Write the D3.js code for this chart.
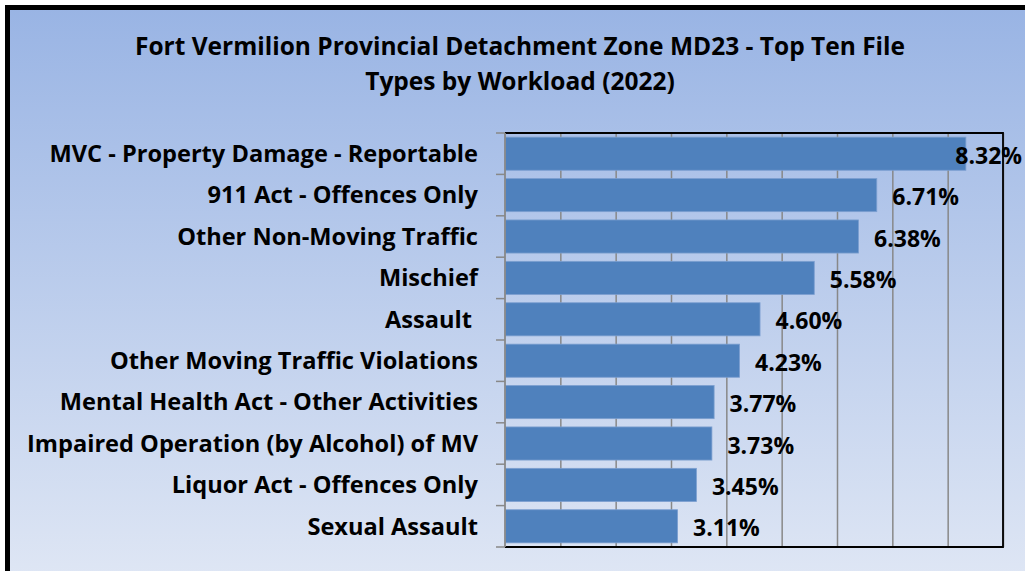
<!DOCTYPE html>
<html>
<head>
<meta charset="utf-8">
<script src="https://cdn.jsdelivr.net/npm/d3@7"></script>
<style>
  html, body { margin: 0; padding: 0; background: #ffffff; }
  svg { display: block; }
  text { font-family: "Open Sans", Lato, sans-serif; font-weight: bold; fill: #000; }
</style>
</head>
<body>
<svg id="chart" width="1025" height="571"></svg>
<script>
// Top ten file types by share of workload (%)
const categories = [
  "MVC - Property Damage - Reportable",
  "911 Act - Offences Only",
  "Other Non-Moving Traffic",
  "Mischief",
  "Assault ",
  "Other Moving Traffic Violations",
  "Mental Health Act - Other Activities",
  "Impaired Operation (by Alcohol) of MV",
  "Liquor Act - Offences Only",
  "Sexual Assault"
];
const values = [8.32, 6.71, 6.38, 5.58, 4.60, 4.23, 3.77, 3.73, 3.45, 3.11];
const valueLabels = ["8.32%", "6.71%", "6.38%", "5.58%", "4.60%", "4.23%", "3.77%", "3.73%", "3.45%", "3.11%"];
const gridTicks = [0, 1, 2, 3, 4, 5, 6, 7, 8, 9];
const titleLines = [
  "Fort Vermilion Provincial Detachment Zone MD23 - Top Ten File",
  "Types by Workload (2022)"
];

const svg = d3.select("#chart");
const W = 1025, H = 571;

// Background gradient of the chart area
const defs = svg.append("defs");
const grad = defs.append("linearGradient")
  .attr("id", "bg").attr("x1", 0).attr("y1", 0).attr("x2", 0).attr("y2", 1);
grad.append("stop").attr("offset", "0%").attr("stop-color", "#99b4e4");
grad.append("stop").attr("offset", "100%").attr("stop-color", "#e1e8f5");

svg.append("rect")
  .attr("x", 7.5).attr("y", 7.5)
  .attr("width", W + 20).attr("height", H + 20)
  .attr("fill", "url(#bg)")
  .attr("stroke", "#000").attr("stroke-width", 5);

// Title
svg.append("g").selectAll("text")
  .data(titleLines)
  .join("text")
  .attr("x", 520)
  .attr("y", (d, i) => 55 + i * 35)
  .attr("text-anchor", "middle")
  .attr("font-size", 24.5)
  .text(d => d);

// Plot area
const plot = { left: 505, right: 1003, top: 133, bottom: 547 };

const x = d3.scaleLinear()
  .domain([0, 9])
  .range([plot.left, plot.right]);

const y = d3.scaleBand()
  .domain(categories)
  .range([plot.top, plot.bottom])
  .paddingInner(0.2)
  .paddingOuter(0.1);

// Vertical gridlines
svg.append("g")
  .attr("transform", `translate(0,${plot.bottom})`)
  .call(d3.axisBottom(x).tickValues(gridTicks.slice(1)).tickSize(-(plot.bottom - plot.top)).tickFormat(""))
  .call(g => g.select(".domain").remove())
  .call(g => g.selectAll("line").attr("stroke", "#888888").attr("stroke-width", 1.5));

// Bars
svg.append("g").selectAll("rect")
  .data(values)
  .join("rect")
  .attr("x", x(0) + 0.5)
  .attr("y", (d, i) => y(categories[i]))
  .attr("width", d => x(d) - x(0))
  .attr("height", y.bandwidth())
  .attr("fill", "#4f81bd")
  .attr("stroke", "#7c9fd0")
  .attr("stroke-width", 0.8);

// Frame: black top, right and bottom edges
svg.append("path")
  .attr("d", `M${plot.left},${plot.top}H${plot.right}V${plot.bottom}H${plot.left}`)
  .attr("fill", "none")
  .attr("stroke", "#000")
  .attr("stroke-width", 1.8);

// Category axis: gray line with ticks at band boundaries
const step = y.step();
const boundaries = d3.range(categories.length + 1).map(i => plot.top + i * step);
const axisG = svg.append("g");
axisG.append("line")
  .attr("x1", plot.left).attr("x2", plot.left)
  .attr("y1", plot.top).attr("y2", plot.bottom)
  .attr("stroke", "#888888").attr("stroke-width", 1.8);
axisG.selectAll("line.tick")
  .data(boundaries)
  .join("line")
  .attr("class", "tick")
  .attr("x1", plot.left - 9).attr("x2", plot.left)
  .attr("y1", d => d).attr("y2", d => d)
  .attr("stroke", "#888888").attr("stroke-width", 1.5);

// Category labels
svg.append("g").selectAll("text")
  .data(categories)
  .join("text")
  .attr("x", 478)
  .attr("y", d => y(d) + y.bandwidth() / 2)
  .attr("dy", "0.35em")
  .attr("text-anchor", "end")
  .attr("font-size", 23.6)
  .style("white-space", "pre")
  .text(d => d);

// Value labels, kept inside the chart's right edge
svg.append("g").selectAll("text")
  .data(values)
  .join("text")
  .attr("y", (d, i) => y(categories[i]) + y.bandwidth() / 2 + 2)
  .attr("dy", "0.35em")
  .attr("font-size", 23)
  .text((d, i) => valueLabels[i])
  .attr("x", function(d) {
    const w = this.getComputedTextLength();
    return Math.min(x(d) + 16, 1022 - w);
  });
</script>
</body>
</html>
